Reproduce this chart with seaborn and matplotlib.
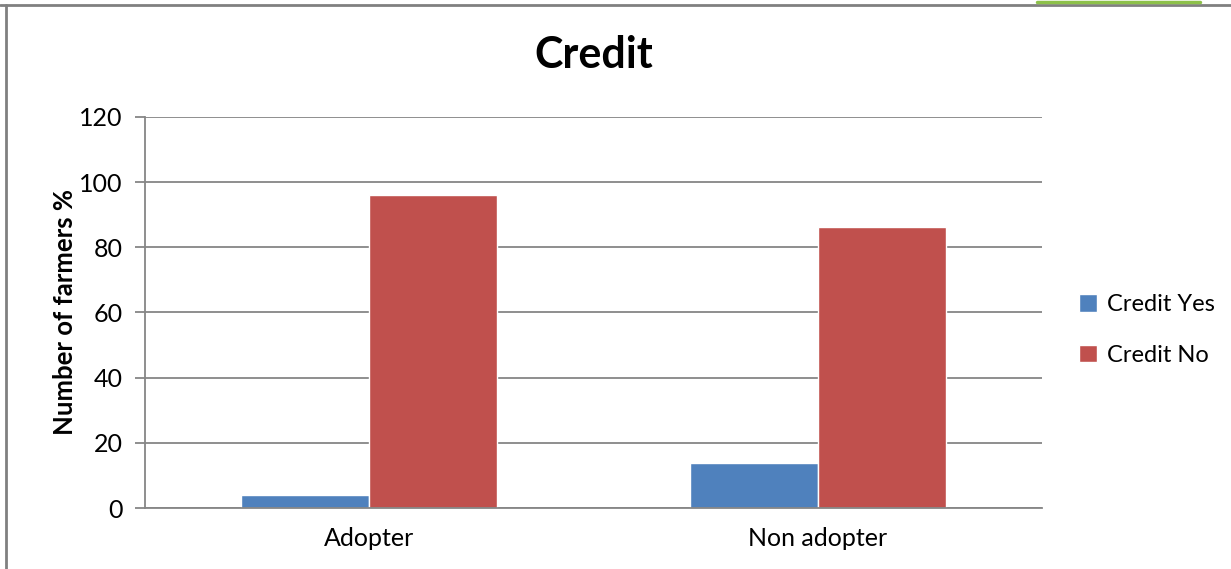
import pandas as pd
import seaborn as sns
import matplotlib.pyplot as plt
from matplotlib.lines import Line2D

# Data
groups = ['Adopter', 'Non adopter']
credit_yes = [4.0, 13.7]
credit_no = [96.0, 86.3]
series = ['Credit Yes', 'Credit No']
colors = ['#4F81BD', '#C0504D']

df = pd.DataFrame({
    'group': groups * 2,
    'value': credit_yes + credit_no,
    'series': [series[0]] * len(groups) + [series[1]] * len(groups),
})

sns.set_style('white')
plt.rcParams['font.family'] = ['Lato', 'DejaVu Sans']
plt.rcParams['text.color'] = 'black'
plt.rcParams['axes.labelcolor'] = 'black'

fig = plt.figure(figsize=(12.31, 5.69), dpi=100)
ax = fig.add_axes([0.1178, 0.1072, 0.7287, 0.6872])

sns.barplot(data=df, x='group', y='value', hue='series', palette=colors,
            width=0.571, saturation=1, ax=ax, legend=True)

ax.set_ylim(0, 120)
ax.set_yticks(range(0, 121, 20))
ax.set_xlim(-0.5, 1.5)
ax.yaxis.grid(True, color='#868686', linewidth=1.3)
ax.set_axisbelow(True)

for side in ['top', 'right']:
    ax.spines[side].set_visible(False)
for side in ['left', 'bottom']:
    ax.spines[side].set_color('#868686')
    ax.spines[side].set_linewidth(1.3)

ax.tick_params(axis='y', left=True, length=7, width=1.3, color='#868686',
               labelcolor='black', labelsize=18, pad=9)
ax.tick_params(axis='x', bottom=False, labelcolor='black', labelsize=18, pad=10)

ax.set_xlabel('')
ax.set_ylabel('Number of farmers %', fontsize=18.5, fontweight='bold', labelpad=2)
ax.set_title('Credit', fontsize=31, fontweight='bold', pad=35)

ax.legend(title=None, frameon=False, fontsize=17, loc='center left',
          bbox_to_anchor=(1.018, 0.455), handlelength=0.75, handleheight=0.75,
          handletextpad=0.4, labelspacing=1.25)

# page frame around the figure (from the document scan)
fig.add_artist(Line2D([0, 1], [0.991, 0.991], color='#808080', linewidth=2,
                      transform=fig.transFigure))
fig.add_artist(Line2D([0.0045, 0.0045], [0, 0.991], color='#808080', linewidth=2,
                      transform=fig.transFigure))
fig.add_artist(Line2D([0.842, 0.975], [0.9965, 0.9965], color='#8DC14A',
                      linewidth=2.5, transform=fig.transFigure))

plt.savefig('out.png', dpi=100)
